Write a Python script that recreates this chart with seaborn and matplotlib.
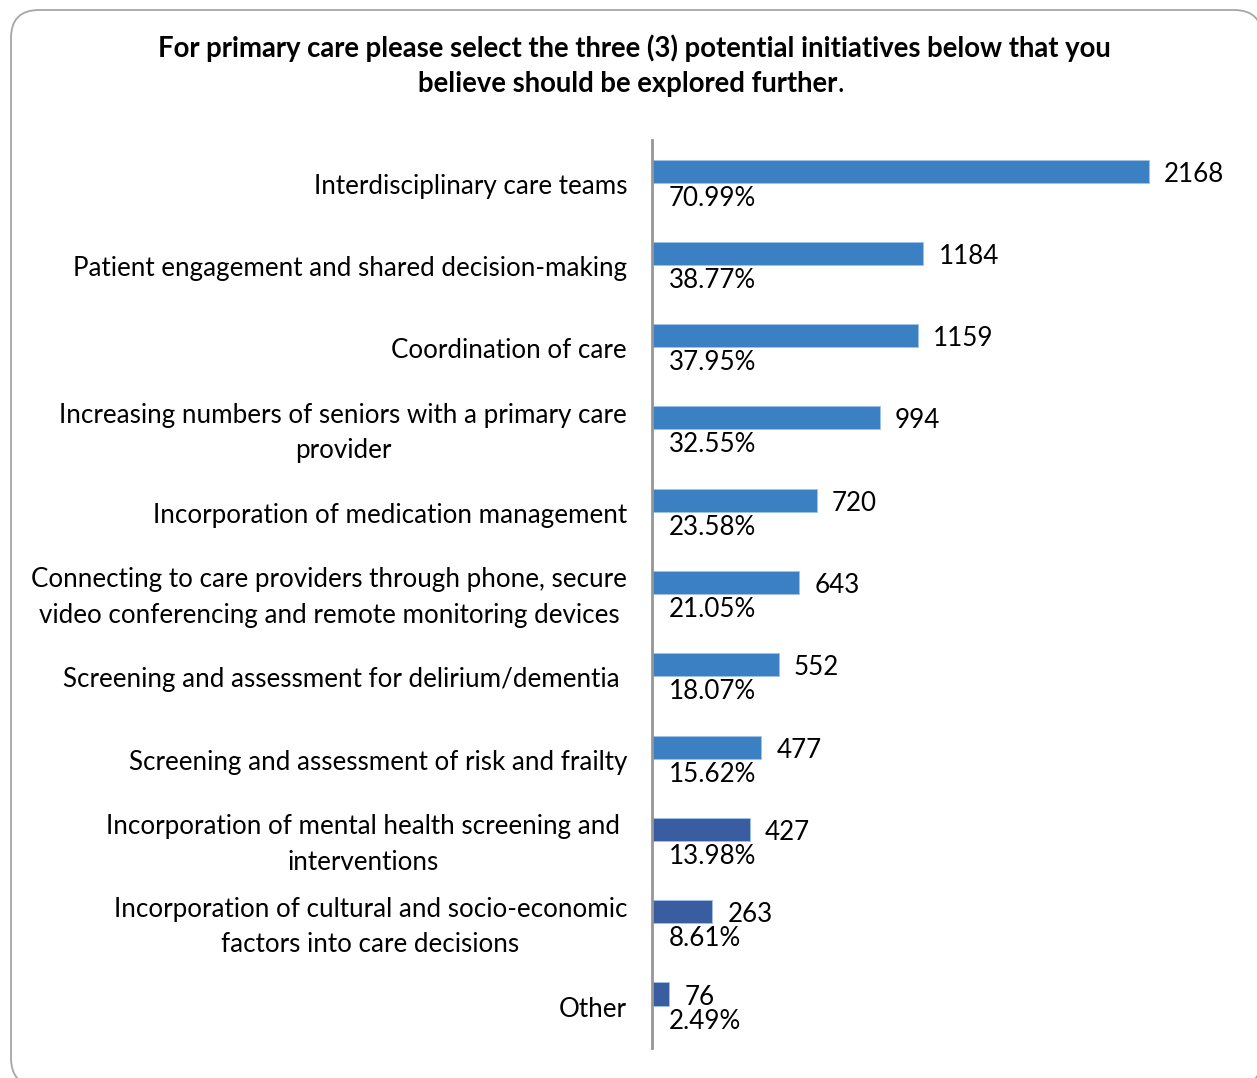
import matplotlib
matplotlib.use("Agg")
import matplotlib.pyplot as plt
from matplotlib.patches import FancyBboxPatch
from matplotlib.text import Annotation
import seaborn as sns
import pandas as pd

categories = [
    "Interdisciplinary care teams",
    "Patient engagement and shared decision-making",
    "Coordination of care",
    "Increasing numbers of seniors with a primary care\nprovider",
    "Incorporation of medication management",
    "Connecting to care providers through phone, secure\nvideo conferencing and remote monitoring devices",
    "Screening and assessment for delirium/dementia",
    "Screening and assessment of risk and frailty",
    "Incorporation of mental health screening and\ninterventions",
    "Incorporation of cultural and socio-economic\nfactors into care decisions",
    "Other",
]
counts = [2168, 1184, 1159, 994, 720, 643, 552, 477, 427, 263, 76]
percents = ["70.99%", "38.77%", "37.95%", "32.55%", "23.58%", "21.05%",
            "18.07%", "15.62%", "13.98%", "8.61%", "2.49%"]
groups = ["a"] * 8 + ["b"] * 3
# small right shift for labels that carry a trailing space
label_shift = [0, 0, 0, 0, 0, 0, 7, 0, 7, 0, 0]

palette = {"a": "#3C80C4", "b": "#3A5DA2"}

df = pd.DataFrame({"category": categories, "count": counts, "group": groups})

sns.set_style("white")
plt.rcParams["font.family"] = ["Lato", "DejaVu Sans"]
plt.rcParams["text.color"] = "black"

W, H = 1257, 1078
fig = plt.figure(figsize=(W / 100, H / 100), dpi=100)

# background layer in pixel coordinates holding the rounded frame
bg = fig.add_axes([0, 0, 1, 1], zorder=-1)
bg.set_xlim(0, W)
bg.set_ylim(H, 0)
bg.axis("off")
bg.add_patch(FancyBboxPatch((11, 10), 1262 - 11, 1086 - 10,
                            boxstyle="round,pad=0,rounding_size=28",
                            facecolor="white", edgecolor="#A6A6A6",
                            linewidth=1.3, clip_on=False))

ax_left, ax_right = 652 / W, 1240 / W
ax_top, ax_bot = 140 / H, 1048 / H
ax = fig.add_axes([ax_left, 1 - ax_bot, ax_right - ax_left, ax_bot - ax_top])
ax.patch.set_alpha(0)

sns.barplot(data=df, x="count", y="category", hue="group", palette=palette,
            orient="h", width=0.28, dodge=False, legend=False, ax=ax,
            saturation=1, edgecolor="#9DC3E6", linewidth=0.6)

px_per_unit = (1149 - 652) / 2168
ax.set_xlim(0, (1240 - 652) / px_per_unit)
ax.set_ylim(10 + 0.656, -0.377)

for s in ["top", "right", "bottom"]:
    ax.spines[s].set_visible(False)
ax.spines["left"].set_color("#969696")
ax.spines["left"].set_linewidth(2)
ax.set_xticks([])
ax.set_yticks([])
ax.set_xlabel("")
ax.set_ylabel("")

fs = 18.7
band_offset = 15 / 82.3
for i, (cat, c, p) in enumerate(zip(categories, counts, percents)):
    ax.annotate(str(c), xy=(c, i), xytext=(15, -3), textcoords="offset pixels",
                ha="left", va="center", fontsize=fs, color="black")
    ax.annotate(p, xy=(0, i), xytext=(17, -27), textcoords="offset pixels",
                ha="left", va="center", fontsize=fs, color="black")
    ax.annotate(cat, xy=(0, i + band_offset), xytext=(-25 - label_shift[i], 0),
                textcoords="offset pixels", ha="right", va="center",
                multialignment="center", fontsize=fs, color="black",
                linespacing=1.52, annotation_clip=False)

tfs = 19.8
fig.text(634 / W, 1 - 48 / H,
         "For primary care please select the three (3) potential initiatives below that you",
         ha="center", va="center", fontsize=tfs, fontweight="bold", color="black")
t2 = fig.text(628 / W, 1 - 84 / H, "believe should be explored further",
              ha="center", va="center", fontsize=tfs, fontweight="bold", color="black")
fig.add_artist(Annotation(".", xy=(1, 0), xycoords=t2, ha="left", va="bottom",
                          fontsize=tfs, color="black"))

fig.savefig("out.png", dpi=100)
